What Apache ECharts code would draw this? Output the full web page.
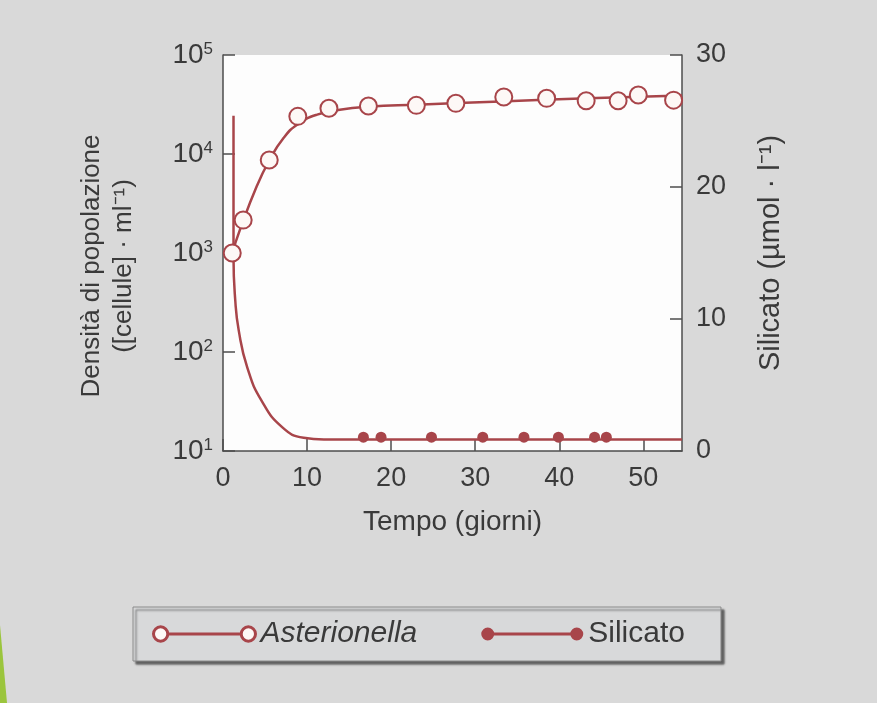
<!DOCTYPE html>
<html>
<head>
<meta charset="utf-8">
<title>Asterionella e silicato</title>
<script src="https://cdn.jsdelivr.net/npm/echarts@6/dist/echarts.min.js"></script>
<style>
  html, body { margin: 0; padding: 0; background: #d9d9d9; }
  #main { width: 877px; height: 703px; }
</style>
</head>
<body>
<div id="main"></div>
<script>

// Asterionella: punti misurati (giorni, cellule/ml)
var astDays  = [1.1, 2.4, 5.5, 8.9, 12.6, 17.3, 23.0, 27.7, 33.4, 38.5, 43.2, 47.0, 49.4, 53.6];
var astCells = [1000, 2150, 8700, 24000, 29000, 30500, 31000, 32500, 37700, 36500, 34500, 34500, 39500, 35000];

// Asterionella: curva
var astCurveDays  = [1.1, 2.0, 4.0, 5.5, 7.2, 8.9, 11.2, 13.9, 17.3, 23.0, 33.0, 43.4, 54.6];
var astCurveCells = [1000, 1700, 4700, 8600, 14500, 20000, 25000, 28000, 30000, 31500, 34000, 36500, 39000];

// Silicato: curva (giorni, µmol/l)
var silCurveDays = [1.25, 1.25, 1.46, 1.88, 2.9, 4.6, 7.1, 9.6, 12.0, 54.6];
var silCurveVals = [25.4, 14.7, 11.4, 9.1, 6.3, 3.8, 1.77, 1.0, 0.88, 0.88];

// Silicato: punti misurati
var silDays = [16.7, 18.8, 24.8, 30.9, 35.8, 39.9, 44.2, 45.6];
var silVals = [1.05, 1.05, 1.05, 1.05, 1.05, 1.05, 1.05, 1.05];

// etichette degli assi
var dayTicks = [0, 10, 20, 30, 40, 50];
var densityExp = [1, 2, 3, 4, 5];
var silTicks = [0, 10, 20, 30];

var RED = '#a8454a';
var TXT = '#3a3a3a';
var AXIS = '#4d4d4d';

function pairs(xs, ys) {
  var out = [];
  for (var i = 0; i < xs.length; i++) {
    out.push([xs[i], ys[i]]);
  }
  return out;
}

// icone della legenda: due cerchi uniti da una linea
var iconOpen = 'path://M1,8 A7,7 0 1,1 15,8 A7,7 0 1,1 1,8 Z M87,8 A7,7 0 1,1 101,8 A7,7 0 1,1 87,8 Z M15,8 L87,8';
var iconFull = 'path://M0,8 A6.5,6.5 0 1,1 13,8 A6.5,6.5 0 1,1 0,8 Z M89,8 A6.5,6.5 0 1,1 102,8 A6.5,6.5 0 1,1 89,8 Z M10,6.5 L92,6.5 L92,9.5 L10,9.5 Z';

var option = {
  backgroundColor: '#d9d9d9',
  animation: false,
  textStyle: { fontFamily: 'Liberation Sans, Arial, sans-serif' },
  grid: {
    left: 223, right: 195, top: 55, bottom: 252,
    show: true, backgroundColor: '#fdfdfd', borderWidth: 0
  },
  legend: {
    left: 133, top: 607,
    padding: [12, 36, 12, 19],
    itemGap: 64,
    itemWidth: 102, itemHeight: 16,
    backgroundColor: '#d8d9da',
    borderColor: '#8a8a8a', borderWidth: 1,
    shadowColor: 'rgba(0,0,0,0.55)', shadowBlur: 2, shadowOffsetX: 3, shadowOffsetY: 3,
    textStyle: { fontSize: 30, color: TXT },
    data: [
      { name: 'Asterionella', icon: iconOpen,
        itemStyle: { color: '#fdf8f6', borderColor: RED, borderWidth: 3 },
        textStyle: { fontStyle: 'italic' } },
      { name: 'Silicato', icon: iconFull,
        itemStyle: { color: RED, borderWidth: 0 } }
    ]
  },
  xAxis: {
    type: 'value', min: 0, max: 54.6, interval: 10,
    name: 'Tempo (giorni)', nameLocation: 'middle', nameGap: 57,
    nameTextStyle: { fontSize: 28, color: TXT },
    axisLine: { lineStyle: { color: AXIS, width: 1.5 } },
    axisTick: { inside: true, length: 12, lineStyle: { color: AXIS, width: 1.5 } },
    axisLabel: {
      fontSize: 27, color: TXT, margin: 14, showMaxLabel: false,
      formatter: function (v) { return dayTicks.indexOf(v) >= 0 ? String(v) : ''; }
    },
    splitLine: { show: false }
  },
  yAxis: [
    {
      type: 'log', logBase: 10, min: 10, max: 100000,
      name: 'Densità di popolazione\n([cellule] · ml⁻¹)',
      nameLocation: 'middle', nameGap: 83, nameRotate: 90,
      nameTextStyle: { fontSize: 26, color: TXT, lineHeight: 32, padding: [0, 26, 0, 0] },
      axisLine: { show: true, lineStyle: { color: AXIS, width: 1.5 } },
      axisTick: { inside: true, length: 12, lineStyle: { color: AXIS, width: 1.5 } },
      axisLabel: {
        margin: 10, color: TXT,
        formatter: function (v) {
          var e = Math.round(Math.log(v) / Math.LN10);
          if (densityExp.indexOf(e) < 0) return '';
          return '{b|10}{s|' + e + '}';
        },
        rich: {
          b: { fontSize: 28, color: TXT },
          s: { fontSize: 17, color: TXT, verticalAlign: 'top' }
        }
      },
      splitLine: { show: false }
    },
    {
      type: 'value', min: 0, max: 30, interval: 10, position: 'right',
      name: 'Silicato (µmol · l⁻¹)',
      nameLocation: 'middle', nameGap: 74, nameRotate: 90,
      nameTextStyle: { fontSize: 29, color: TXT },
      axisLine: { show: true, lineStyle: { color: AXIS, width: 1.5 } },
      axisTick: { inside: true, length: 12, lineStyle: { color: AXIS, width: 1.5 } },
      axisLabel: {
        fontSize: 27, color: TXT, margin: 14,
        formatter: function (v) { return silTicks.indexOf(v) >= 0 ? String(v) : ''; }
      },
      splitLine: { show: false }
    }
  ],
  graphic: [
    { type: 'polygon', shape: { points: [[0, 625], [7, 703], [0, 703]] },
      style: { fill: '#9bc53d' } }
  ],
  series: [
    {
      name: 'Asterionella', type: 'scatter', yAxisIndex: 0, z: 5,
      symbol: 'circle', symbolSize: 17,
      itemStyle: { color: '#fdf8f6', borderColor: RED, borderWidth: 2, opacity: 1 },
      data: pairs(astDays, astCells)
    },
    {
      name: 'Asterionella', type: 'line', yAxisIndex: 0, z: 3,
      smooth: true, showSymbol: false,
      lineStyle: { color: RED, width: 2.5 },
      data: pairs(astCurveDays, astCurveCells)
    },
    {
      name: 'Silicato', type: 'line', yAxisIndex: 1, z: 3,
      smooth: true, showSymbol: false,
      lineStyle: { color: RED, width: 2.5 },
      data: pairs(silCurveDays, silCurveVals)
    },
    {
      name: 'Silicato', type: 'scatter', yAxisIndex: 1, z: 4,
      symbol: 'circle', symbolSize: 11,
      itemStyle: { color: RED, opacity: 1 },
      data: pairs(silDays, silVals)
    }
  ]
};

var myChart = echarts.init(document.getElementById('main'));
myChart.setOption(option);

</script>
</body>
</html>
